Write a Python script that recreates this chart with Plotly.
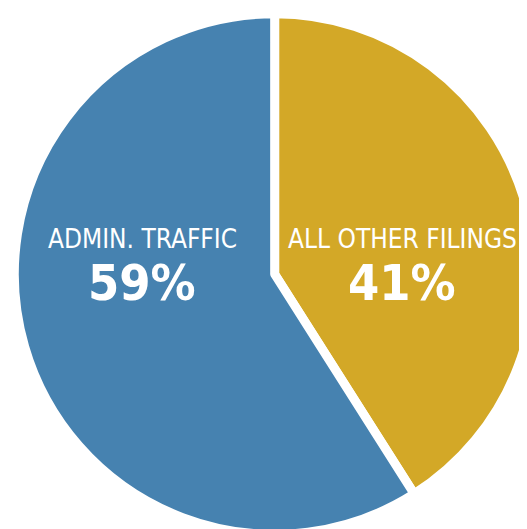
import plotly.graph_objects as go

# slices listed clockwise from 12 o'clock
categories = ["ALL OTHER FILINGS", "ADMIN. TRAFFIC"]
shares = [41, 59]
colors = ["#D3A827", "#4682B0"]

W, H = 527, 529
label_x = {"ADMIN. TRAFFIC": 134, "ALL OTHER FILINGS": 394}
name_y, value_y = 231, 275

fig = go.Figure(go.Pie(
    labels=categories,
    values=shares,
    sort=False,
    direction="clockwise",
    rotation=0,
    marker=dict(colors=colors, line=dict(color="white", width=9)),
    textinfo="none",
    hoverinfo="label+percent",
    showlegend=False,
    domain=dict(x=[0.012, 1.0], y=[0.0, 0.994]),
))

font_reg = "DejaVu Sans Condensed, Liberation Sans Narrow, Arial Narrow, sans-serif"
annotations = []
for cat, val in zip(categories, shares):
    xc = label_x[cat] / W
    annotations.append(dict(
        text=cat, x=xc, y=1 - name_y / H, xref="paper", yref="paper",
        showarrow=False, xanchor="center", yanchor="middle",
        font=dict(family=font_reg, size=26, color="white"),
    ))
    annotations.append(dict(
        text=f"<b>{val}%</b>", x=xc, y=1 - value_y / H, xref="paper", yref="paper",
        showarrow=False, xanchor="center", yanchor="middle",
        font=dict(family=font_reg, size=50, color="white"),
    ))

fig.update_layout(
    width=W, height=H,
    margin=dict(l=0, r=0, t=0, b=0),
    paper_bgcolor="white",
    plot_bgcolor="white",
    annotations=annotations,
)

fig.write_html("out.html")
